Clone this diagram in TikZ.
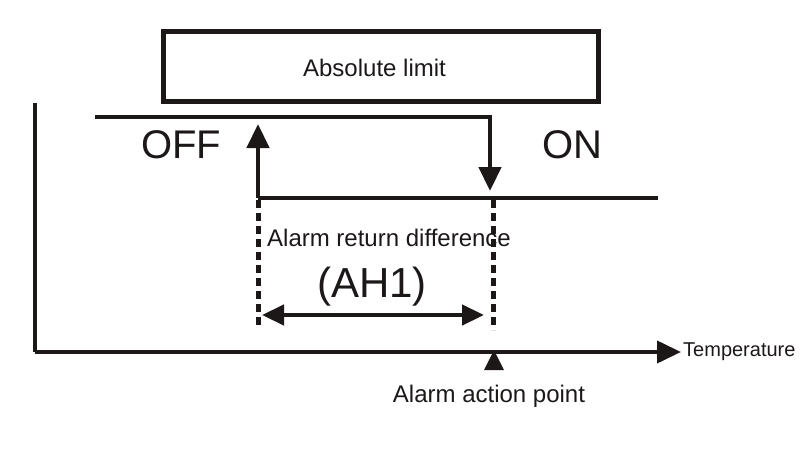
\documentclass[tikz,border=0pt]{standalone}
\usepackage{fontspec}
\setmainfont{Liberation Sans}
\usetikzlibrary{arrows.meta, shapes.geometric}

\begin{document}
\begin{tikzpicture}[x=1pt, y=-1pt,
    line/.style={line width=4.5pt, ink},
    arr/.style={line, -{Triangle[length=24pt, width=22pt]}},
    darr/.style={line, {Triangle[length=22pt, width=20pt]}-{Triangle[length=22pt, width=20pt]}},
    dash line/.style={line width=5pt, ink, dash pattern=on 8pt off 5pt},
    lbl/.style={inner sep=0pt, text=ink}]
    \definecolor{ink}{RGB}{28,24,24}

    \useasboundingbox (0,0) rectangle (800,452);

    % limit box
    \node (limit) at (380.5,66.5) [draw=ink, line width=5pt, minimum width=435pt, minimum height=69pt, inner sep=0pt] {};
    \node (limittext) at (374.5,68) [lbl, font=\fontsize{24}{26}\selectfont] {Absolute limit};

    % axes
    \coordinate (top) at (35,103);
    \coordinate (origin) at (35,352);
    \coordinate (xend) at (681,352);
    \draw[line width=4pt, ink] (top) -- (origin);
    \draw[line width=4pt, ink, -{Triangle[length=24pt, width=22pt]}] (origin) -- (xend);
    \node (temp) at (683,352) [lbl, anchor=west, font=\fontsize{20}{22}\selectfont] {Temperature};

    % switching lines
    \coordinate (offstart) at (95,117);
    \coordinate (offcorner) at (490,117);
    \coordinate (ontip) at (490,191);
    \coordinate (oncorner) at (258,198);
    \coordinate (offtip) at (258,124);
    \coordinate (onend) at (658,198);
    \draw[arr] (offstart) -- (offcorner) -- (ontip);
    \draw[line] (onend) -- (oncorner);
    \draw[arr] (oncorner) -- (offtip);

    \node (off) at (181,145) [lbl, font=\fontsize{40}{44}\selectfont] {OFF};
    \node (on) at (572,145) [lbl, font=\fontsize{40}{44}\selectfont] {ON};

    % return difference
    \coordinate (dl) at (258,200);
    \coordinate (dlb) at (258,326);
    \coordinate (dr) at (493,200);
    \coordinate (drb) at (493,330);
    \draw[dash line] (dl) -- (dlb);
    \draw[dash line] (dr) -- (drb);

    \coordinate (ah) at (262,315);
    \coordinate (ahe) at (484,315);
    \draw[darr] (ah) -- (ahe);
    \node (diff) at (389,238) [lbl, font=\fontsize{24}{26}\selectfont] {Alarm return difference};
    \node (ah1) at (372,287) [lbl, font=\fontsize{42}{46}\selectfont] {(AH1)};

    % action point
    \node (mark) at (494,364) [fill=ink, isosceles triangle, isosceles triangle stretches, shape border rotate=90, inner sep=0pt, minimum height=20pt, minimum width=20pt] {};
    \node (point) at (489,396) [lbl, font=\fontsize{24}{26}\selectfont] {Alarm action point};
\end{tikzpicture}
\end{document}
